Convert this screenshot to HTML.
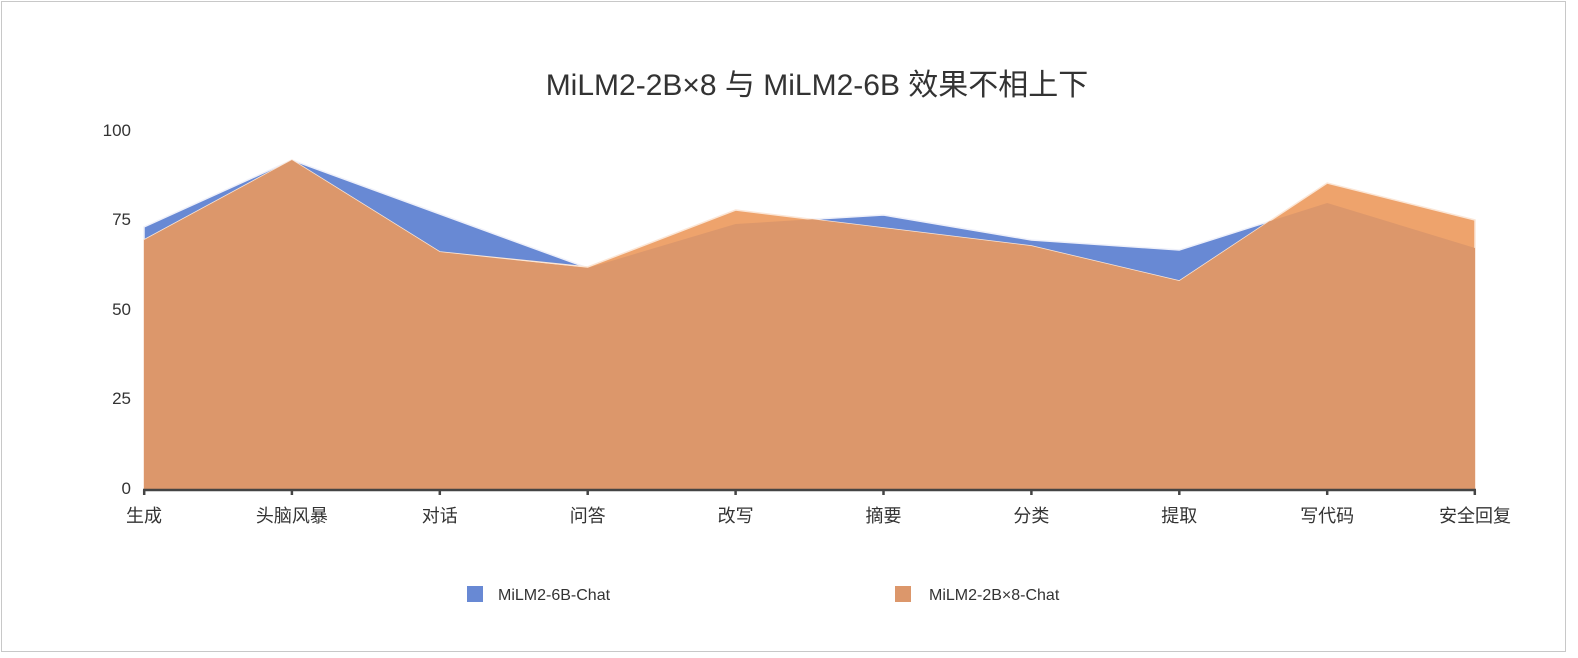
<!DOCTYPE html>
<html><head><meta charset="utf-8"><style>
html,body{margin:0;padding:0;background:#fff;}
svg{display:block;}
text{font-family:"Liberation Sans","Noto Sans CJK SC",sans-serif;fill:#333;}
</style></head><body>
<svg width="1578" height="658" viewBox="0 0 1578 658">
<rect x="1.5" y="1.5" width="1564" height="650" fill="#fff" stroke="#c8c8c8" stroke-width="1"/>
<text x="817" y="95" font-size="30" text-anchor="middle" fill="#444">MiLM2-2B×8 与 MiLM2-6B 效果不相上下</text>
<g font-size="17" text-anchor="end">
<text x="131" y="136">100</text>
<text x="131" y="225">75</text>
<text x="131" y="315">50</text>
<text x="131" y="404">25</text>
<text x="131" y="494">0</text>
</g>
<polygon fill="#6889d4" stroke="#eef0fa" stroke-width="1.5" points="144,490 144,227 291.9,160 439.8,214 587.7,268 735.6,224 883.5,215 1031.4,240 1179.3,250 1327.2,203 1475,248 1475,490"/>
<polygon fill="#eea36c" stroke="#fbe6d6" stroke-width="1.5" points="144,490 144,240 291.9,160 439.8,252 587.7,267 735.6,210 883.5,228 1031.4,246 1179.3,281 1327.2,183 1475,220 1475,490"/>
<polygon fill="#dc976b" points="144,490 144,240 291.9,160 439.8,252 587.7,268 735.6,224 812.3,219.3 883.5,228 1031.4,246 1179.3,281 1269.2,221.4 1327.2,203 1475,248 1475,490"/>
<line x1="143" y1="490" x2="1476" y2="490" stroke="#444" stroke-width="2.5"/>
<g stroke="#444" stroke-width="2.5">
<line x1="144.2" y1="490" x2="144.2" y2="495"/><line x1="291.9" y1="490" x2="291.9" y2="495"/><line x1="439.8" y1="490" x2="439.8" y2="495"/><line x1="587.7" y1="490" x2="587.7" y2="495"/><line x1="735.6" y1="490" x2="735.6" y2="495"/><line x1="883.5" y1="490" x2="883.5" y2="495"/><line x1="1031.4" y1="490" x2="1031.4" y2="495"/><line x1="1179.3" y1="490" x2="1179.3" y2="495"/><line x1="1327.2" y1="490" x2="1327.2" y2="495"/><line x1="1474.8" y1="490" x2="1474.8" y2="495"/>
</g>
<g font-size="18" text-anchor="middle">
<text x="144" y="522">生成</text><text x="291.9" y="522">头脑风暴</text><text x="439.8" y="522">对话</text><text x="587.7" y="522">问答</text><text x="735.6" y="522">改写</text><text x="883.5" y="522">摘要</text><text x="1031.4" y="522">分类</text><text x="1179.3" y="522">提取</text><text x="1327.2" y="522">写代码</text><text x="1475" y="522">安全回复</text>
</g>
<rect x="467" y="586" width="16" height="16" fill="#6889d4"/>
<text x="498" y="600" font-size="16">MiLM2-6B-Chat</text>
<rect x="895" y="586" width="16" height="16" fill="#dc976b"/>
<text x="929" y="600" font-size="16">MiLM2-2B×8-Chat</text>
</svg>
</body></html>
